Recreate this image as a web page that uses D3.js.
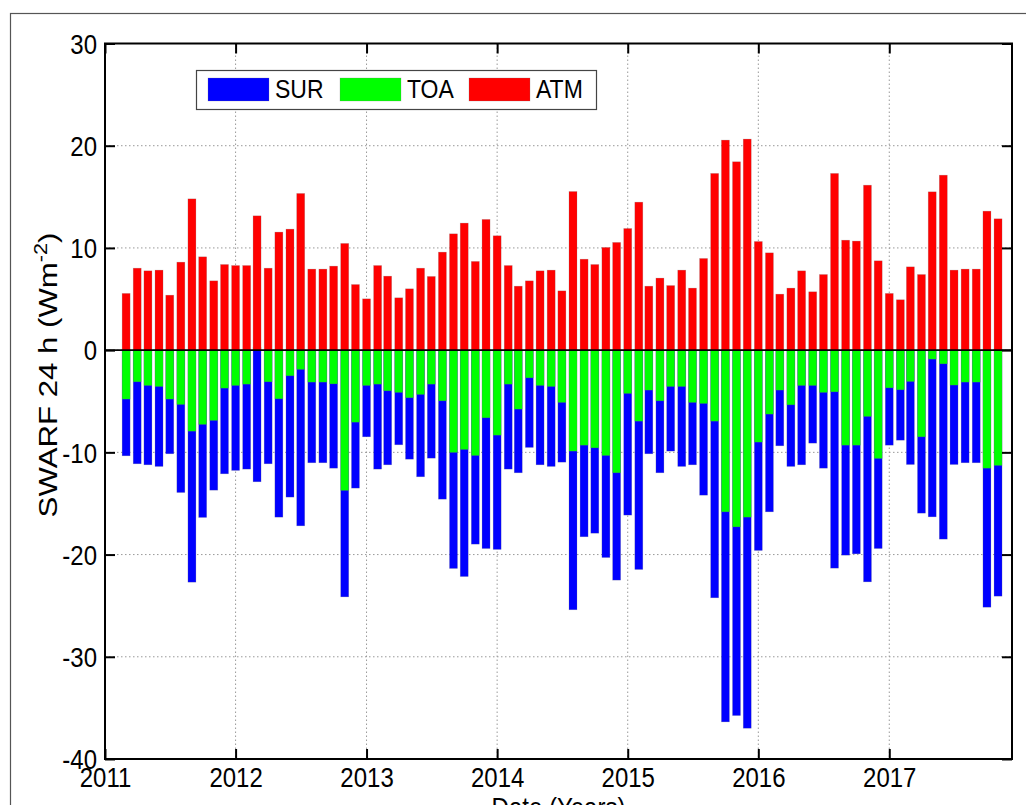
<!DOCTYPE html>
<html>
<head>
<meta charset="utf-8">
<script src="https://cdn.jsdelivr.net/npm/d3@7"></script>
<style>
  html, body { margin: 0; padding: 0; background: #fff; }
  svg { display: block; }
  text { font-family: "Liberation Sans", Arial, sans-serif; fill: #000; }
</style>
</head>
<body>
<svg id="chart" width="1026" height="805"></svg>
<script>
// Monthly shortwave aerosol radiative forcing, Mar 2011 – Nov 2017
const firstMonth = new Date(2011, 2, 1);
const lastMonth = new Date(2017, 10, 1);

// Surface forcing (W m^-2)
const SUR = [
  -10.34, -11.12, -11.22, -11.38, -10.14, -13.93, -22.70, -16.37, -13.70, -12.10,
  -11.77, -11.64, -12.88, -11.12, -16.34, -14.38, -17.19, -11.02, -11.02, -11.55,
  -24.14, -13.50, -8.48,
  -11.64, -11.22, -9.26, -10.67, -12.39, -10.57, -14.58, -21.36, -22.15, -18.98,
  -19.41, -19.50, -11.64, -12.00, -9.52, -11.22, -11.38, -10.96, -25.40, -18.26,
  -17.91, -20.29, -22.50, -16.14,
  -21.46, -10.14, -12.00, -9.88, -11.38, -11.22, -14.19, -24.23, -36.37, -35.75,
  -36.99, -19.60, -15.82, -9.36, -11.38, -11.22, -9.10, -11.55, -21.33, -20.06,
  -19.93, -22.67, -19.41, -9.30,
  -8.81, -11.19, -15.95, -16.31, -18.49, -11.19, -11.02, -11.02, -25.15, -24.07
];

// Top-of-atmosphere forcing (W m^-2)
const TOA = [
  -4.79, -3.10, -3.46, -3.56, -4.79, -5.32, -7.93, -7.27, -6.88, -3.72,
  -3.46, -3.33, 0.25, -3.10, -4.76, -2.51, -1.89, -3.13, -3.13, -3.30,
  -13.73, -7.05, -3.46,
  -3.33, -3.98, -4.14, -4.66, -4.34, -3.33, -4.96, -10.01, -9.72, -10.31,
  -6.62, -8.32, -3.33, -5.77, -2.71, -3.46, -3.56, -5.12, -9.88, -9.30,
  -9.56, -10.31, -12.00, -4.24,
  -6.95, -3.91, -4.96, -3.56, -3.56, -5.12, -5.22, -6.95, -15.82, -17.29,
  -16.34, -9.00, -6.26, -3.91, -5.35, -3.46, -3.46, -4.14, -4.08, -9.30,
  -9.30, -6.49, -10.60, -3.69,
  -3.88, -3.07, -8.48, -0.88, -1.34, -3.42, -3.13, -3.13, -11.55, -11.28
];

// Atmospheric forcing (W m^-2)
const ATM = [
  5.55, 8.02, 7.76, 7.83, 5.38, 8.61, 14.80, 9.13, 6.78, 8.38,
  8.28, 8.28, 13.14, 8.02, 11.55, 11.84, 15.33, 7.93, 7.93, 8.22,
  10.44, 6.42, 5.02,
  8.28, 7.24, 5.12, 6.00, 8.02, 7.21, 9.59, 11.38, 12.43, 8.68,
  12.79, 11.19, 8.28, 6.26, 6.78, 7.76, 7.83, 5.80, 15.52, 8.90,
  8.38, 10.05, 10.54, 11.90,
  14.48, 6.26, 7.05, 6.32, 7.83, 6.07, 8.97, 17.29, 20.55, 18.43,
  20.65, 10.63, 9.52, 5.48, 6.07, 7.76, 5.71, 7.40, 17.29, 10.76,
  10.67, 16.14, 8.74, 5.55,
  4.93, 8.15, 7.40, 15.49, 17.12, 7.83, 7.93, 7.93, 13.60, 12.85
];

const seriesNames = ["SUR", "TOA", "ATM"];
const seriesColors = ["#0000ff", "#00ff00", "#ff0000"];
const yTicks = [-40, -30, -20, -10, 0, 10, 20, 30];
const xTickYears = [2011, 2012, 2013, 2014, 2015, 2016, 2017];

const months = d3.timeMonth.range(firstMonth, d3.timeMonth.offset(lastMonth, 1));
const seriesData = [SUR, TOA, ATM];

const svg = d3.select("#chart");
const plot = { left: 105, right: 1012, top: 43.5, bottom: 759 };
const FONT = 24;       // text size
const STRETCH = 1.15;  // glyphs are drawn slightly taller than wide

const x = d3.scaleTime()
  .domain([new Date(2011, 0, 1), new Date(2017, 11, 10)])
  .range([plot.left, plot.right]);
const y = d3.scaleLinear()
  .domain([-40, 30])
  .range([plot.bottom, plot.top]);

// figure frame
svg.append("rect")
  .attr("x", 10.5).attr("y", 13.5)
  .attr("width", 1030).attr("height", 830)
  .attr("fill", "none").attr("stroke", "#555").attr("stroke-width", 1.2);

// grid lines (dotted)
const grid = svg.append("g").attr("stroke", "#999").attr("stroke-width", 1)
  .attr("stroke-dasharray", "1.5,2.5");
grid.selectAll("line.gx")
  .data(xTickYears.slice(1))
  .join("line")
  .attr("x1", d => x(new Date(d, 0, 1))).attr("x2", d => x(new Date(d, 0, 1)))
  .attr("y1", plot.top).attr("y2", plot.bottom);
grid.selectAll("line.gy")
  .data(yTicks.filter(v => v > -40 && v < 30))
  .join("line")
  .attr("x1", plot.left).attr("x2", plot.right)
  .attr("y1", d => y(d)).attr("y2", d => y(d));

// bars: surface first, TOA over it, atmosphere on top
const barW = 8;
seriesData.forEach((vals, si) => {
  svg.append("g").selectAll("rect")
    .data(vals.map((v, i) => ({ v, date: months[i] })))
    .join("rect")
    .attr("x", d => x(d.date) - barW / 2)
    .attr("width", barW)
    .attr("y", d => y(Math.max(0, d.v)))
    .attr("height", d => Math.abs(y(d.v) - y(0)))
    .attr("fill", seriesColors[si])
    .attr("stroke", "rgba(120,120,120,0.35)")
    .attr("stroke-width", 0.6);
});

// zero baseline
svg.append("line")
  .attr("x1", plot.left).attr("x2", plot.right)
  .attr("y1", y(0)).attr("y2", y(0))
  .attr("stroke", "#000").attr("stroke-width", 1.6);

// axes box
svg.append("rect")
  .attr("x", plot.left).attr("y", plot.top)
  .attr("width", plot.right - plot.left).attr("height", plot.bottom - plot.top)
  .attr("fill", "none").attr("stroke", "#000").attr("stroke-width", 2);

// inward ticks on all four sides, labels left and bottom
const tickLen = 10;
const xTickDates = xTickYears.map(yr => new Date(yr, 0, 1));
const leftAxis = d3.axisLeft(y).tickValues(yTicks).tickSize(-tickLen).tickFormat(d => String(d));
const rightAxis = d3.axisRight(y).tickValues(yTicks).tickSize(-tickLen).tickFormat("");
const bottomAxis = d3.axisBottom(x).tickValues(xTickDates).tickSize(-tickLen)
  .tickFormat(d3.timeFormat("%Y"));
const topAxis = d3.axisTop(x).tickValues(xTickDates).tickSize(-tickLen).tickFormat("");

function styleAxis(g) {
  g.select(".domain").remove();
  g.selectAll(".tick line").attr("stroke", "#000").attr("stroke-width", 2);
  g.selectAll(".tick text").attr("font-size", FONT)
    .attr("font-family", "Liberation Sans, Arial, sans-serif").attr("fill", "#000");
}
const gl = svg.append("g").attr("transform", `translate(${plot.left},0)`).call(leftAxis).call(styleAxis);
gl.selectAll(".tick text")
  .attr("x", null).attr("dy", "0.35em")
  .attr("transform", `translate(-8,0) scale(1,${STRETCH})`);
svg.append("g").attr("transform", `translate(${plot.right},0)`).call(rightAxis).call(styleAxis);
const gb = svg.append("g").attr("transform", `translate(0,${plot.bottom})`).call(bottomAxis).call(styleAxis);
gb.selectAll(".tick text")
  .attr("y", null).attr("dy", "0.72em")
  .attr("transform", `translate(0,8) scale(1,${STRETCH})`);
svg.append("g").attr("transform", `translate(0,${plot.top})`).call(topAxis).call(styleAxis);

// axis titles
const yl = svg.append("text")
  .attr("transform", "translate(57,375) rotate(-90) scale(1.2,1)")
  .attr("text-anchor", "middle")
  .attr("font-size", 26);
yl.append("tspan").text("SWARF 24 h (Wm");
yl.append("tspan").attr("dy", -10).attr("font-size", 18).text("-2");
yl.append("tspan").attr("dy", 10).text(")");

svg.append("text")
  .attr("transform", `translate(${(plot.left + plot.right) / 2},817) scale(1,${STRETCH})`)
  .attr("text-anchor", "middle").attr("font-size", FONT)
  .text("Date (Years)");

// legend
const lg = svg.append("g");
lg.append("rect")
  .attr("x", 196.5).attr("y", 70.5).attr("width", 400).attr("height", 39)
  .attr("fill", "#fff").attr("stroke", "#444").attr("stroke-width", 1.2);
const legendX = [208, 340, 469];
seriesNames.forEach((name, i) => {
  lg.append("rect")
    .attr("x", legendX[i]).attr("y", 78).attr("width", 61).attr("height", 23)
    .attr("fill", seriesColors[i]).attr("stroke", "rgba(120,120,120,0.4)").attr("stroke-width", 0.6);
  lg.append("text")
    .attr("transform", `translate(${legendX[i] + 67},98) scale(1,1.1)`)
    .attr("font-size", 23)
    .text(name);
});
</script>
</body>
</html>
